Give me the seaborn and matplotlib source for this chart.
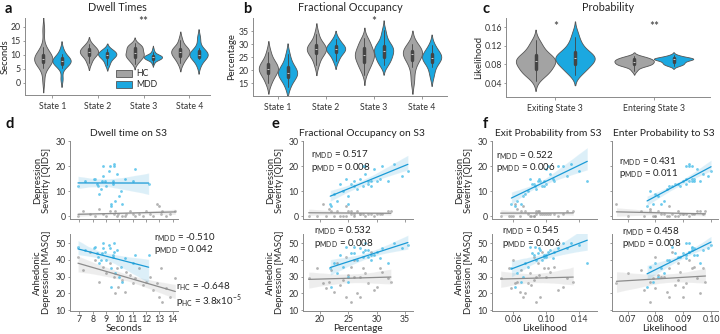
import numpy as np
import pandas as pd
import matplotlib
matplotlib.use("Agg")
import matplotlib.pyplot as plt
from matplotlib.patches import Patch
import seaborn as sns

# ---------------- data ----------------
groups = ["HC", "MDD"]
states = ["State 1", "State 2", "State 3", "State 4"]
trans_labels = ["Exiting State 3", "Entering State 3"]

# MDD subjects (shared across columns)
mdd_qids = [20, 21, 14, 13, 15, 5, 12, 17, 9, 14, 18, 11, 15, 5, 13, 20, 14, 12, 6, 16, 13, 19, 10, 14, 4, 15, 12, 20, 8, 14]
mdd_masq = [47, 50, 44, 42, 48, 35, 40, 46, 38, 45, 49, 40, 47, 27, 43, 50, 38, 42, 32, 47, 44, 43, 36, 46, 24, 41, 48, 45, 30, 43]
mdd_dwell = [9.3, 9.6, 8.7, 9.5, 8.2, 9.4, 9.0, 9.8, 8.5, 8.9, 9.2, 8.6, 8.1, 10.2, 12.2, 8.8, 11.0, 8.4, 9.7, 8.8, 8.3, 11.2, 10.1, 7.4, 9.4, 10.4, 6.9, 9.6, 10.0, 9.5]
mdd_fo = [31, 33, 26, 28.5, 24.5, 21.8, 29, 28, 22.5, 30, 35.5, 26.5, 27, 25, 23.5, 28, 32, 27.5, 23, 34.5, 25.5, 29.5, 24, 28.5, 22, 30.5, 26, 27.5, 25, 29]
mdd_exit = [0.115, 0.13, 0.09, 0.10, 0.08, 0.058, 0.095, 0.105, 0.075, 0.11, 0.14, 0.088, 0.092, 0.07, 0.085, 0.12, 0.15, 0.097, 0.065, 0.125, 0.083, 0.10, 0.078, 0.093, 0.062, 0.108, 0.087, 0.102, 0.072, 0.098]
mdd_enter = [0.093, 0.092, 0.090, 0.088, 0.093, 0.082, 0.085, 0.097, 0.080, 0.092, 0.100, 0.084, 0.094, 0.079, 0.091, 0.091, 0.096, 0.089, 0.083, 0.099, 0.087, 0.095, 0.078, 0.093, 0.077, 0.091, 0.086, 0.092, 0.081, 0.094]

# HC subjects
hc_qids = [0, 2, 1, 0, 3, 1, 0, 2, 1, 0, 1, 2, 0, 1, 0, 2, 1, 0, 1, 0, 2, 1, 0, 5, 4, 1, 2, 0, 1, 2]
hc_masq = [42, 34, 45, 40, 27, 36, 32, 38, 30, 35, 24, 20, 28, 33, 21, 31, 26, 29, 35, 25, 27, 30, 22, 26, 18, 35, 15, 23, 18, 29]
hc_dwell = [6.9, 7.3, 7.8, 8.2, 8.5, 8.8, 9.0, 9.3, 9.6, 9.8, 9.9, 9.7, 10.2, 10.5, 10.4, 10.8, 11.0, 11.2, 11.5, 11.8, 12.0, 12.3, 12.5, 12.8, 13.0, 13.1, 13.2, 13.5, 13.8, 14.2]
hc_fo = [24.5, 22.0, 29.0, 26.0, 21.5, 25.5, 28.0, 23.0, 27.0, 19.5, 30.0, 26.5, 24.0, 31.0, 22.5, 25.0, 28.5, 18.0, 27.5, 23.5, 32.5, 26.0, 29.5, 20.5, 24.5, 30.5, 25.5, 21.0, 27.0, 32.0]
hc_exit = [0.085, 0.070, 0.095, 0.060, 0.065, 0.110, 0.080, 0.090, 0.100, 0.055, 0.120, 0.075, 0.085, 0.105, 0.068, 0.092, 0.078, 0.045, 0.098, 0.082, 0.133, 0.088, 0.115, 0.062, 0.072, 0.102, 0.088, 0.058, 0.093, 0.125]
hc_enter = [0.080, 0.075, 0.086, 0.092, 0.078, 0.094, 0.070, 0.088, 0.083, 0.085, 0.090, 0.096, 0.088, 0.089, 0.084, 0.081, 0.091, 0.079, 0.093, 0.087, 0.098, 0.082, 0.076, 0.066, 0.085, 0.097, 0.078, 0.080, 0.090, 0.095]

# violin samples for the other states
dwell_other = {
    ("State 1", "HC"): [1.0, 5.5, 6.5, 7.0, 7.5, 8.0, 8.2, 8.5, 8.8, 9.0, 9.5, 10.0, 10.5, 11.5, 13.0, 19.0],
    ("State 1", "MDD"): [1.5, 5.5, 6.2, 6.8, 7.2, 7.5, 7.8, 8.0, 8.3, 8.6, 9.0, 9.5, 10.5, 12.0],
    ("State 2", "HC"): [7.0, 8.5, 9.5, 10.0, 10.5, 11.0, 11.2, 11.5, 12.0, 12.5, 13.0, 14.0],
    ("State 2", "MDD"): [6.5, 8.0, 9.0, 9.5, 10.0, 10.2, 10.5, 11.0, 11.5, 12.0],
    ("State 4", "HC"): [7.0, 8.5, 9.5, 10.0, 10.5, 11.0, 11.5, 12.0, 12.5, 13.0, 15.5],
    ("State 4", "MDD"): [6.5, 8.5, 9.3, 9.7, 10.0, 10.3, 10.8, 11.5, 12.5, 16.0],
}
fo_other = {
    ("State 1", "HC"): [15, 17, 18.5, 19.5, 20, 20.5, 21, 22, 23, 24, 27],
    ("State 1", "MDD"): [13.5, 16, 17, 18, 18.5, 19, 19.5, 20.5, 21.5, 23, 26],
    ("State 2", "HC"): [22, 24.5, 26, 27, 27.5, 28, 28.5, 29, 30, 31, 34],
    ("State 2", "MDD"): [23.5, 25.5, 26.5, 27.5, 28, 28.3, 28.7, 29.5, 30.5, 32],
    ("State 4", "HC"): [16, 21, 23.5, 25, 26, 26.5, 27, 27.5, 28.5, 30],
    ("State 4", "MDD"): [18, 21, 23, 24, 24.5, 25, 25.5, 26.5, 27.5, 29.5],
}

stats_text = {
    "d_masq": ("-0.510", "0.042"),
    "d_masq_hc": ("-0.648", r"3.8x10$^{-5}$"),
    "e_qids": ("0.517", "0.008"),
    "e_masq": ("0.532", "0.008"),
    "f1_qids": ("0.522", "0.006"),
    "f1_masq": ("0.545", "0.006"),
    "f2_qids": ("0.431", "0.011"),
    "f2_masq": ("0.458", "0.008"),
}

# ---------------- style ----------------
sns.set_style("ticks")
plt.rcParams["font.family"] = ["Lato", "DejaVu Sans"]
plt.rcParams["mathtext.fontset"] = "custom"
plt.rcParams["mathtext.rm"] = "Lato"
plt.rcParams["axes.edgecolor"] = "#8a8a8a"
plt.rcParams["axes.linewidth"] = 0.7
plt.rcParams["xtick.color"] = "#8a8a8a"
plt.rcParams["ytick.color"] = "#8a8a8a"
plt.rcParams["xtick.labelcolor"] = "#333333"
plt.rcParams["ytick.labelcolor"] = "#333333"
plt.rcParams["xtick.major.size"] = 1.8
plt.rcParams["ytick.major.size"] = 1.8
plt.rcParams["xtick.major.width"] = 0.6
plt.rcParams["ytick.major.width"] = 0.6
plt.rcParams["xtick.major.pad"] = 1.2
plt.rcParams["ytick.major.pad"] = 1.2

GRAY = "#a3a3a3"
BLUE = "#1ba8e0"
PAL = {"HC": GRAY, "MDD": BLUE}
PT_BLUE = "#52c1ea"
PT_GRAY = "#9a9a9a"
LN_BLUE = "#1a9ad6"
LN_GRAY = "#8c8c8c"
TICK_FS = 6.3
LAB_FS = 6.8
TITLE_FS = 7.4

W, H = 720, 334
fig = plt.figure(figsize=(W / 100, H / 100), dpi=100)


def pos(l, t, r, b):
    return [l / W, 1 - b / H, (r - l) / W, (b - t) / H]


def ftext(x, y, s, **kw):
    fig.text(x / W, 1 - y / H, s, **kw)


# ---------------- top row: violins ----------------
def long_df(other, s3_hc, s3_mdd):
    rows = []
    for st in states:
        for g in groups:
            if st == "State 3":
                vals = s3_hc if g == "HC" else s3_mdd
            else:
                vals = other[(st, g)]
            for v in vals:
                rows.append((st, g, v))
    return pd.DataFrame(rows, columns=["state", "group", "value"])


def violin(ax, df, xcol, order):
    sns.violinplot(data=df, x=xcol, y="value", hue="group", order=order,
                   hue_order=groups, palette=PAL, inner="box",
                   density_norm="width", linewidth=0.6, linecolor="#555555",
                   saturation=1, width=0.8,
                   inner_kws=dict(box_width=2.5, whis_width=0.6, color="#444444"),
                   ax=ax, legend=False)
    ax.set_xlabel("")
    sns.despine(ax=ax)
    ax.tick_params(labelsize=TICK_FS)
    ax.tick_params(axis="x", pad=3)


ax_a = fig.add_axes(pos(25, 18, 210, 95))
violin(ax_a, long_df(dwell_other, hc_dwell, mdd_dwell), "state", states)
ax_a.set_ylim(-4.3, 23.2)
ax_a.set_xlim(-0.6, 3.45)
ax_a.set_yticks([0, 5, 10, 15, 20])
ax_a.set_ylabel("Seconds", fontsize=LAB_FS, labelpad=1)
ax_a.set_title("Dwell Times", fontsize=TITLE_FS + 0.4, pad=5)
ax_a.text(2, 20.0, "**", ha="center", va="bottom", fontsize=8.5, color="#333333")
ax_a.legend(handles=[Patch(facecolor=GRAY, edgecolor="#555555", lw=0.6, label="HC"),
                     Patch(facecolor=BLUE, edgecolor="#555555", lw=0.6, label="MDD")],
            loc="lower left", bbox_to_anchor=(0.45, -0.03), frameon=False,
            fontsize=6.3, handlelength=1.8, handleheight=0.9, labelspacing=0.25,
            handletextpad=0.5)

ax_b = fig.add_axes(pos(253, 18, 447, 96))
violin(ax_b, long_df(fo_other, hc_fo, mdd_fo), "state", states)
ax_b.set_ylim(10, 40)
ax_b.set_xlim(-0.52, 3.52)
ax_b.set_yticks([15, 20, 25, 30, 35])
ax_b.set_ylabel("Percentage", fontsize=LAB_FS, labelpad=2)
ax_b.set_title("Fractional Occupancy", fontsize=TITLE_FS + 0.4, pad=5)
ax_b.text(2, 36.5, "*", ha="center", va="bottom", fontsize=8.5, color="#333333")

rows = []
for lab, hv, mv in [(trans_labels[0], hc_exit, mdd_exit), (trans_labels[1], hc_enter, mdd_enter)]:
    for v in hv:
        rows.append((lab, "HC", v))
    for v in mv:
        rows.append((lab, "MDD", v))
df_c = pd.DataFrame(rows, columns=["trans", "group", "value"])
ax_c = fig.add_axes(pos(506, 18, 710, 97))
violin(ax_c, df_c, "trans", trans_labels)
ax_c.set_ylim(0.01, 0.18)
ax_c.set_xlim(-0.5, 1.57)
ax_c.set_yticks([0.04, 0.08, 0.12, 0.16])
ax_c.set_yticklabels(["0.04", "0.08", "0.12", "0.16"])
ax_c.set_ylabel("Likelihood", fontsize=LAB_FS, labelpad=1)
ax_c.set_title("Probability", fontsize=TITLE_FS + 0.4, pad=5)
ax_c.text(0, 0.150, "*", ha="center", va="bottom", fontsize=8.5, color="#333333")
ax_c.text(1, 0.150, "**", ha="center", va="bottom", fontsize=8.5, color="#333333")

# ---------------- bottom rows: scatter + regression ----------------
def scatter_panel(ax, hx, hy, mx, my):
    sns.regplot(x=np.array(hx), y=np.array(hy), ax=ax, ci=95, color=LN_GRAY,
                scatter_kws=dict(s=4, color=PT_GRAY, alpha=0.75, linewidths=0, marker="s"),
                line_kws=dict(lw=0.9, color=LN_GRAY))
    sns.regplot(x=np.array(mx), y=np.array(my), ax=ax, ci=95, color="#7fd0f0",
                scatter_kws=dict(s=4, color=PT_BLUE, alpha=0.85, linewidths=0, marker="s"),
                line_kws=dict(lw=0.9, color=LN_BLUE))
    sns.despine(ax=ax)
    ax.tick_params(labelsize=TICK_FS)


cols = [
    ((70, 178), hc_dwell, mdd_dwell, (6.3, 14.4), [7, 8, 9, 10, 11, 12, 13, 14], None, "Seconds"),
    ((303, 413), hc_fo, mdd_fo, (17.0, 36.4), [20, 25, 30, 35], None, "Percentage"),
    ((492, 597), hc_exit, mdd_exit, (0.0345, 0.1618), [0.06, 0.10, 0.14], ["0.06", "0.10", "0.14"], "Likelihood"),
    ((612, 718), hc_enter, mdd_enter, (0.0644, 0.1025), [0.07, 0.08, 0.09, 0.10], ["0.07", "0.08", "0.09", "0.10"], "Likelihood"),
]
for i, ((l, r), hx, mx, xl, xt, xtl, xlab) in enumerate(cols):
    ax_t = fig.add_axes(pos(l, 141, r, 219))
    scatter_panel(ax_t, hx, hc_qids, mx, mdd_qids)
    ax_t.set_xlim(*xl)
    ax_t.set_ylim(-1.2, 30.2)
    ax_t.set_yticks([0, 10, 20, 30])
    ax_t.set_xticks(xt)
    ax_t.tick_params(labelbottom=False)
    ax_b2 = fig.add_axes(pos(l, 234, r, 311))
    scatter_panel(ax_b2, hx, hc_masq, mx, mdd_masq)
    ax_b2.set_xlim(*xl)
    ax_b2.set_ylim(9.5, 55.5)
    ax_b2.set_yticks([10, 20, 30, 40, 50])
    ax_b2.set_xticks(xt)
    ax_b2.tick_params(axis="x", pad=0.8)
    if xtl:
        ax_b2.set_xticklabels(xtl)
    ax_b2.set_xlabel(xlab, fontsize=LAB_FS + 0.4, labelpad=0.5)
    if i == 3:
        ax_t.tick_params(labelleft=False)
        ax_b2.tick_params(labelleft=False)
    else:
        ax_t.set_ylabel("Depression\nSeverity [QIDS]", fontsize=LAB_FS, labelpad=3, linespacing=1.0)
        ax_b2.set_ylabel("Anhedonic\nDepression [MASQ]", fontsize=LAB_FS, labelpad=3, linespacing=1.0)

# ---------------- annotations ----------------
AFS = 7.0
def stat(x, y, key, grp="MDD", gap=12):
    rv, pv = stats_text[key]
    ftext(x, y, r"r$_{\mathrm{%s}}$ = %s" % (grp, rv), fontsize=AFS, color="#222222", va="center")
    ftext(x, y + gap, r"p$_{\mathrm{%s}}$ = %s" % (grp, pv), fontsize=AFS, color="#222222", va="center")

stat(154, 238, "d_masq")
stat(176, 287, "d_masq_hc", grp="HC", gap=14)
stat(311, 155, "e_qids")
stat(314, 231, "e_masq")
stat(496, 156, "f1_qids")
stat(502, 231, "f1_masq")
stat(619, 162, "f2_qids")
stat(622, 232, "f2_masq")

# panel titles bottom
ftext(128, 133, "Dwell time on S3", fontsize=TITLE_FS, ha="center", va="center", color="#222222")
ftext(362, 133, "Fractional Occupancy on S3", fontsize=TITLE_FS, ha="center", va="center", color="#222222")
ftext(548, 133, "Exit Probability from S3", fontsize=TITLE_FS, ha="center", va="center", color="#222222")
ftext(664, 133, "Enter Probability to S3", fontsize=TITLE_FS, ha="center", va="center", color="#222222")

# panel letters
for x, y, s in [(5, 9, "a"), (243, 9, "b"), (483, 9, "c"), (5, 124, "d"), (272, 124, "e"), (483, 124, "f")]:
    ftext(x, y, s, fontsize=10.5, fontweight="bold", va="center", ha="left", color="#111111")

fig.savefig("out.png", dpi=100)
